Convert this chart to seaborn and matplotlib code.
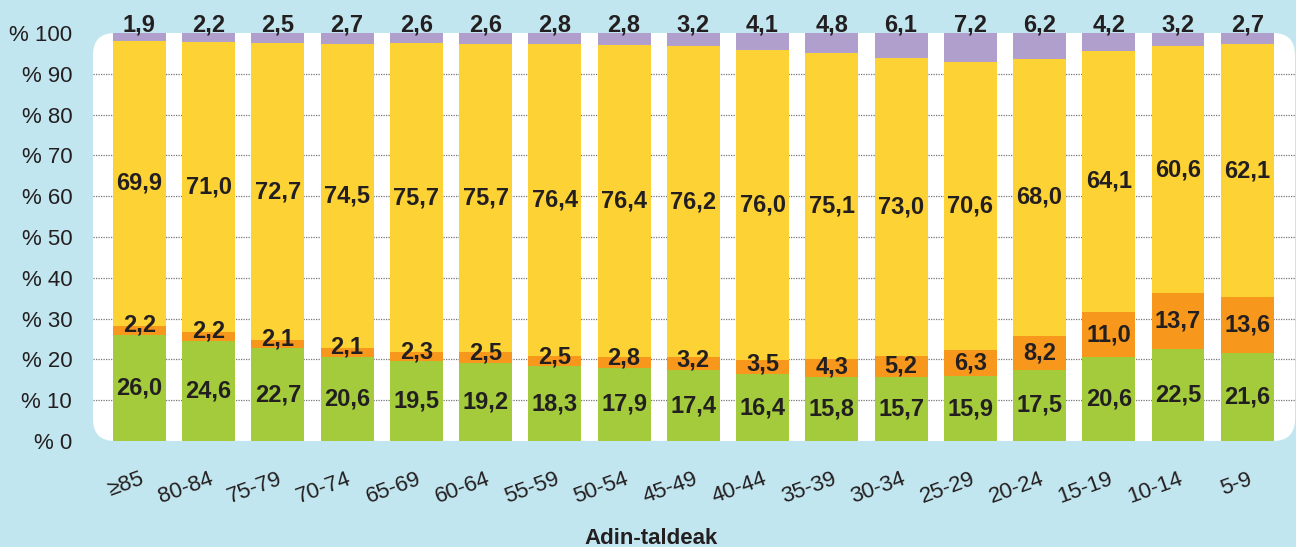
"""Adin-taldeak: stacked share by age group, 100% bars."""
import matplotlib
import numpy as np
import pandas as pd
import seaborn as sns

matplotlib.use("Agg")
import matplotlib.pyplot as plt
from matplotlib.patches import FancyBboxPatch

GROUPS = ["≥85", "80-84", "75-79", "70-74", "65-69", "60-64", "55-59", "50-54", "45-49",
          "40-44", "35-39", "30-34", "25-29", "20-24", "15-19", "10-14", "5-9"]
GREEN = [26.0, 24.6, 22.7, 20.6, 19.5, 19.2, 18.3, 17.9, 17.4, 16.4, 15.8, 15.7, 15.9, 17.5, 20.6, 22.5, 21.6]
ORANGE = [2.2, 2.2, 2.1, 2.1, 2.3, 2.5, 2.5, 2.8, 3.2, 3.5, 4.3, 5.2, 6.3, 8.2, 11.0, 13.7, 13.6]
YELLOW = [69.9, 71.0, 72.7, 74.5, 75.7, 75.7, 76.4, 76.4, 76.2, 76.0, 75.1, 73.0, 70.6, 68.0, 64.1, 60.6, 62.1]
PURPLE = [1.9, 2.2, 2.5, 2.7, 2.6, 2.6, 2.8, 2.8, 3.2, 4.1, 4.8, 6.1, 7.2, 6.2, 4.2, 3.2, 2.7]
Y_TICKS = [0, 10, 20, 30, 40, 50, 60, 70, 80, 90, 100]
X_LABEL = "Adin-taldeak"

BG = "#C2E6EF"
C_GREEN, C_ORANGE, C_YELLOW, C_PURPLE = "#A3CB3C", "#F7981D", "#FDD235", "#B09FCC"
INK = "#231F20"

sns.set_theme(style="white")
plt.rcParams["font.family"] = ["Liberation Sans", "DejaVu Sans"]

df = pd.DataFrame({"group": GROUPS, "green": GREEN, "orange": ORANGE,
                   "yellow": YELLOW, "purple": PURPLE})
df["c_green"] = df["green"]
df["c_orange"] = df["c_green"] + df["orange"]
df["c_yellow"] = df["c_orange"] + df["yellow"]
df["c_purple"] = df["c_yellow"] + df["purple"]

fig = plt.figure(figsize=(12.96, 5.47), dpi=100, facecolor=BG)
ax = fig.add_axes([93 / 1296, 106 / 547, 1202 / 1296, 408 / 547])
ax.set_facecolor("none")
ax.set_zorder(2)

# rounded white panel behind the axes, in pixel units
panel = FancyBboxPatch((93, 106), 1202, 408, boxstyle="round,pad=0,rounding_size=22",
                       transform=None, facecolor="white", edgecolor="none", zorder=-1)
fig.patches.append(panel)

width = 0.765
for col, color in [("c_purple", C_PURPLE), ("c_yellow", C_YELLOW),
                   ("c_orange", C_ORANGE), ("c_green", C_GREEN)]:
    sns.barplot(data=df, x="group", y=col, color=color, width=width,
                saturation=1, linewidth=0, ax=ax, zorder=3)


def fmt(v):
    return f"{v:.1f}".replace(".", ",")


kw = dict(ha="center", va="center", fontsize=17, fontweight="bold", color=INK, zorder=5)
for i, r in df.iterrows():
    ax.text(i, r["green"] / 2, fmt(r["green"]), **kw)
    # thin orange slices: label rides a bit above the green top
    o_mid = r["c_green"] + r["orange"] / 2
    ax.text(i, max(o_mid, r["c_green"] + 2.4), fmt(r["orange"]), **kw)
    ax.text(i, r["c_orange"] + r["yellow"] / 2, fmt(r["yellow"]), **kw)
    ax.text(i, 102.0, fmt(r["purple"]), **kw)

ax.set_xlim(-0.67, len(GROUPS) - 1 + 0.69)
ax.set_ylim(0, 100)
ax.set_yticks(Y_TICKS)
ax.set_yticklabels([f"% {t}" for t in Y_TICKS], fontsize=16, color=INK)
ax.tick_params(axis="y", length=0, pad=15)
ax.tick_params(axis="x", length=0, pad=20)
plt.setp(ax.get_xticklabels(), rotation=20, ha="right", rotation_mode="anchor",
         fontsize=16, color=INK)
ax.set_xlabel("")
ax.set_ylabel("")
ax.yaxis.grid(True, color="#777777", linestyle=(0, (1, 1)), linewidth=0.9)
gl = ax.get_ygridlines()
gl[0].set_visible(False)
gl[-1].set_visible(False)
ax.set_axisbelow(True)
for s in ax.spines.values():
    s.set_visible(False)

fig.text(0.5027, 0.006, X_LABEL, ha="center", va="baseline", fontsize=16,
         fontweight="bold", color=INK)

fig.savefig("out.png", dpi=100, facecolor=BG)
